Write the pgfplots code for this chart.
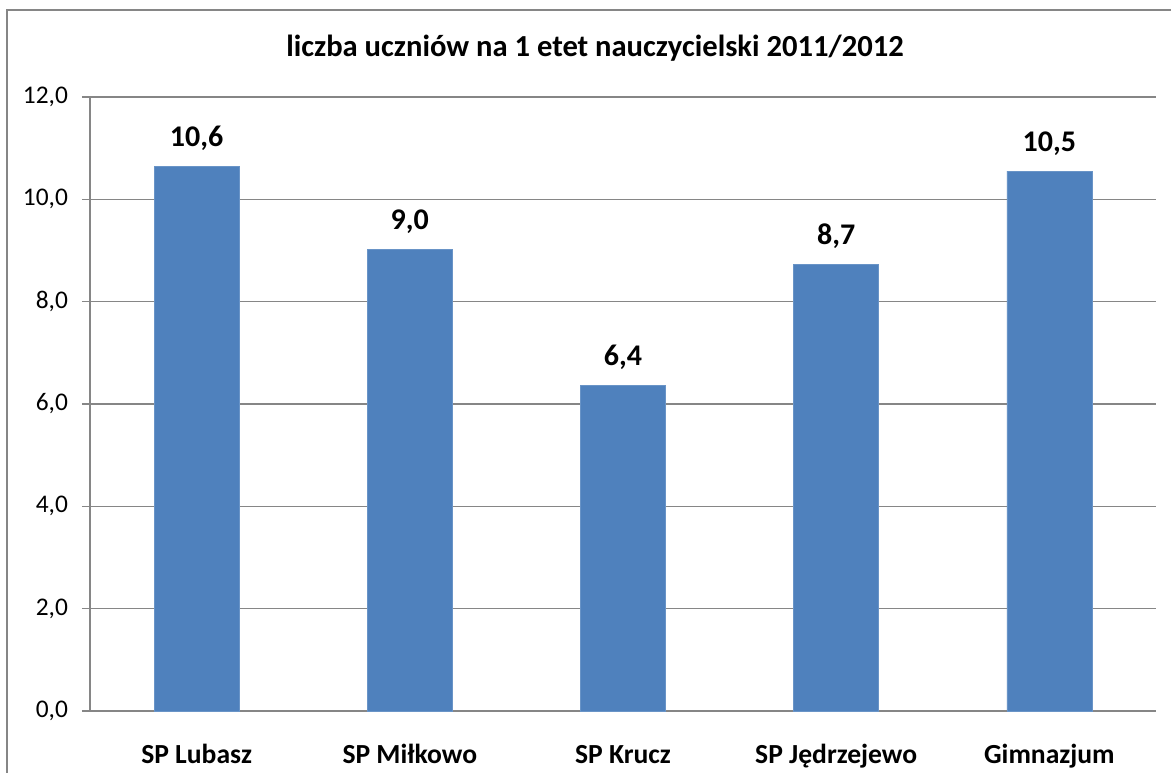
\documentclass[border=0pt]{standalone}
\usepackage{pgfplots}
\pgfplotsset{compat=1.18}
\usepackage{fontspec}
\setmainfont{Carlito}
\definecolor{barblue}{HTML}{4F81BD}
\definecolor{gridgray}{HTML}{868686}
\begin{document}
\begin{tikzpicture}
\useasboundingbox (-45pt,-30.5pt) rectangle (540.5pt,355.5pt);
\begin{axis}[
  at={(0,0)}, anchor=south west,
  scale only axis,
  width=533pt, height=307pt,
  xmin=-0.5, xmax=4.5,
  ymin=0, ymax=12,
  ytick={0,2,...,12},
  xtick={0,1,2,3,4},
  xticklabels={SP Lubasz, SP Miłkowo, SP Krucz, SP Jędrzejewo, Gimnazjum},
  xtick style={draw=none},
  extra x ticks={-0.5,0.5,1.5,2.5,3.5,4.5},
  extra x tick labels={},
  extra x tick style={grid=none, tick style={draw=gridgray, line width=0.6pt}},
  tick align=outside,
  major tick length=4pt,
  ytick style={draw=gridgray, line width=0.6pt},
  axis x line*=bottom,
  axis y line*=left,
  axis line style={draw=gridgray, line width=0.6pt, -},
  ymajorgrids,
  grid style={draw=gridgray, line width=0.6pt},
  yticklabel style={font=\fontsize{12.7}{14}\selectfont, xshift=-3.5pt, /pgf/number format/.cd, fixed, fixed zerofill, precision=1, use comma, assume math mode=true},
  xticklabel style={font=\fontsize{13.8}{16}\selectfont\bfseries, anchor=base, yshift=-22pt},
  ybar,
  bar width=42.5pt,
  point meta=explicit symbolic,
  nodes near coords,
  nodes near coords style={font=\fontsize{15}{17}\selectfont\bfseries, anchor=base, yshift=10pt},
  clip=false,
]
\addplot[fill=barblue, draw=barblue!85!white, line width=0.4pt] table[meta=lab] {
x y lab
0 10.65 10,6
1 9.02 9,0
2 6.36 6,4
3 8.73 8,7
4 10.55 10,5
};
\end{axis}
\draw[gridgray, line width=0.8pt] (-41.5pt,-31pt) -- (-41.5pt,350.5pt) -- (541pt,350.5pt);
\node[anchor=base, font=\fontsize{15.3}{18}\selectfont\bfseries] at (252.5pt,327pt) {liczba uczniów na 1 etet nauczycielski 2011/2012};
\end{tikzpicture}
\end{document}
